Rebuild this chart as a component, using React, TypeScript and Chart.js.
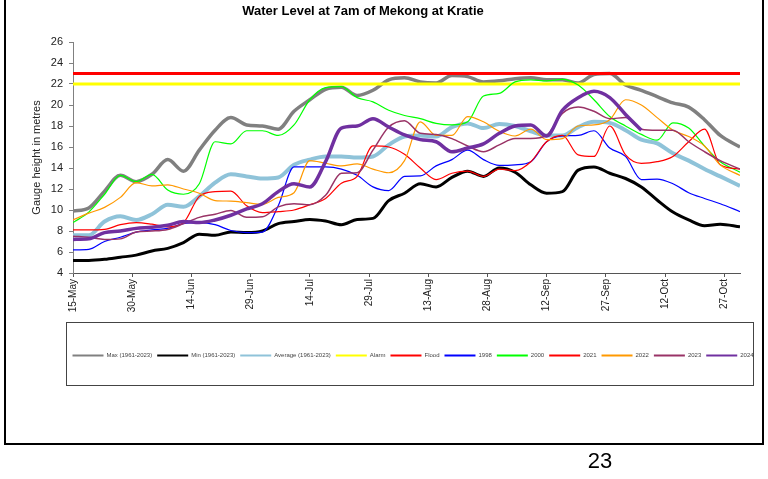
import React, { useEffect, useRef } from "react";
import { Chart, registerables } from "chart.js";

Chart.register(...registerables);

// Day offsets from 15-May (0) to 31-Oct (169)
const days = [0, 4, 8, 12, 16, 20, 24, 28, 32, 36, 40, 44, 48, 52, 56, 60, 64, 68, 72, 76, 80, 84, 88, 92, 96, 100, 104, 108, 112, 116, 120, 124, 128, 132, 136, 140, 144, 148, 152, 156, 160, 164, 169];

const tickDays = [0, 15, 30, 45, 60, 75, 90, 105, 120, 135, 150, 165];
const tickLabels = ["15-May", "30-May", "14-Jun", "29-Jun", "14-Jul", "29-Jul", "13-Aug", "28-Aug", "12-Sep", "27-Sep", "12-Oct", "27-Oct"];

const maxLevel = [9.9, 10.2, 11.8, 13.3, 12.7, 13.4, 14.8, 13.7, 15.7, 17.6, 18.8, 18.1, 18.0, 17.7, 19.4, 20.5, 21.5, 21.7, 20.9, 21.4, 22.4, 22.6, 22.2, 22.1, 22.8, 22.7, 22.2, 22.3, 22.5, 22.6, 22.4, 22.4, 22.1, 22.9, 23.0, 21.9, 21.4, 20.8, 20.2, 19.8, 18.6, 17.1, 16.0];
const minLevel = [5.2, 5.2, 5.3, 5.5, 5.7, 6.1, 6.35, 6.9, 7.7, 7.6, 7.9, 7.85, 8.0, 8.7, 8.9, 9.1, 8.95, 8.6, 9.1, 9.2, 10.9, 11.6, 12.5, 12.2, 13.1, 13.7, 13.2, 14.0, 13.6, 12.4, 11.6, 11.75, 13.8, 14.1, 13.5, 13.0, 12.2, 10.95, 9.8, 9.05, 8.5, 8.65, 8.4];
const avgLevel = [7.6, 7.6, 8.9, 9.4, 9.05, 9.6, 10.5, 10.3, 11.3, 12.6, 13.4, 13.2, 13.0, 13.1, 14.3, 14.8, 15.1, 15.1, 15.0, 15.1, 16.2, 17.0, 17.1, 17.0, 17.9, 18.25, 17.8, 18.2, 18.0, 17.5, 17.1, 17.1, 17.9, 18.4, 18.3, 17.6, 16.7, 16.35, 15.4, 14.7, 13.9, 13.2, 12.3];
const alarmLevel = 22;
const floodLevel = 23;
const y1998 = [6.2, 6.25, 7.0, 7.4, 7.9, 8.1, 8.25, 8.7, 8.8, 8.6, 8.05, 7.85, 7.9, 10.4, 14.1, 14.1, 14.1, 13.9, 13.3, 12.2, 11.85, 13.2, 13.25, 14.2, 14.8, 15.7, 14.8, 14.25, 14.3, 14.6, 16.5, 17.05, 17.1, 17.55, 15.9, 15.1, 12.9, 12.95, 12.5, 11.65, 11.1, 10.6, 9.85];
const y2000 = [8.8, 9.8, 11.5, 13.3, 12.7, 13.4, 11.9, 11.5, 12.5, 16.5, 16.3, 17.55, 17.55, 17.1, 18.1, 20.5, 21.65, 21.75, 20.7, 20.3, 19.5, 19.0, 18.7, 18.25, 18.1, 18.4, 20.85, 21.1, 22.2, 22.4, 22.3, 22.45, 21.9, 20.5, 18.9, 18.0, 17.2, 16.65, 18.3, 17.8, 16.1, 14.6, 13.6];
const y2021 = [8.1, 8.1, 8.15, 8.6, 8.8, 8.65, 8.4, 8.8, 11.3, 11.75, 11.8, 10.4, 9.75, 9.85, 10.0, 10.5, 11.1, 12.55, 13.2, 16.1, 16.0, 15.3, 14.0, 12.9, 13.5, 13.7, 13.2, 13.9, 13.75, 14.6, 16.5, 17.1, 15.25, 15.1, 18.0, 15.25, 14.45, 14.6, 15.1, 16.5, 17.7, 14.3, 13.9];
const y2022 = [9.05, 9.7, 10.25, 11.2, 12.6, 12.3, 12.4, 12.0, 11.6, 10.9, 10.85, 10.7, 10.55, 11.2, 11.65, 14.7, 14.45, 14.2, 14.4, 13.9, 13.55, 14.7, 18.4, 17.1, 17.1, 18.9, 18.4, 17.5, 17.05, 17.7, 16.7, 16.8, 18.0, 18.1, 18.6, 20.5, 20.0, 18.8, 17.6, 17.0, 16.1, 14.3, 13.3];
const y2023 = [7.5, 7.4, 7.2, 7.25, 7.9, 8.0, 8.15, 8.7, 9.3, 9.6, 9.95, 9.3, 9.35, 10.3, 10.6, 10.5, 11.4, 13.5, 13.55, 15.7, 17.9, 18.5, 17.3, 17.2, 16.8, 16.1, 15.55, 16.2, 16.8, 16.8, 17.1, 19.2, 19.8, 19.4, 18.7, 18.8, 17.7, 17.6, 17.6, 16.5, 15.55, 14.7, 13.9];
const y2024 = [7.2, 7.25, 7.85, 8.0, 8.25, 8.35, 8.55, 8.9, 8.8, 9.05, 9.5, 10.1, 10.6, 11.75, 12.5, 12.2, 14.6, 17.8, 18.0, 18.7, 17.9, 17.15, 16.7, 16.5, 15.55, 15.9, 16.3, 17.3, 18.0, 18.1, 17.05, 19.5, 20.7, 21.3, 20.7, 19.1, 17.6];

const FONT = '"Liberation Sans", Arial, sans-serif';

const pts = (vals: number[]) => vals.map((v, i) => ({ x: days[i], y: v }));
const flat = (v: number) => [{ x: days[0], y: v }, { x: days[days.length - 1], y: v }];

const seriesDefs = [
  { label: "Max (1961-2023)", data: pts(maxLevel), color: "#808080", width: 3.5, lw: 2 },
  { label: "Min (1961-2023)", data: pts(minLevel), color: "#000000", width: 3, lw: 2 },
  { label: "Average (1961-2023)", data: pts(avgLevel), color: "#8FC3D9", width: 4, lw: 2 },
  { label: "Alarm", data: flat(alarmLevel), color: "#FFFF00", width: 3, lw: 2 },
  { label: "Flood", data: flat(floodLevel), color: "#FF0000", width: 3, lw: 2 },
  { label: "1998", data: pts(y1998), color: "#0000FF", width: 1.2, lw: 2 },
  { label: "2000", data: pts(y2000), color: "#00FF00", width: 1.2, lw: 2 },
  { label: "2021", data: pts(y2021), color: "#FF0000", width: 1.2, lw: 2 },
  { label: "2022", data: pts(y2022), color: "#FF9900", width: 1.2, lw: 2 },
  { label: "2023", data: pts(y2023), color: "#993366", width: 1.5, lw: 2 },
  { label: "2024", data: pts(y2024), color: "#7030A0", width: 3.5, lw: 2 },
];

const pagePlugin = {
  id: "pageDecor",
  afterDraw(chart: any) {
    const ctx = chart.ctx as CanvasRenderingContext2D;
    ctx.save();
    // Title
    ctx.fillStyle = "#000";
    ctx.font = `bold 13px ${FONT}`;
    ctx.textAlign = "center";
    ctx.textBaseline = "middle";
    ctx.fillText("Water Level at 7am of Mekong at Kratie", 363, 11);

    // Legend box
    ctx.strokeStyle = "#444";
    ctx.lineWidth = 1;
    ctx.strokeRect(66.5, 322.5, 687, 63);

    // Legend items
    let x = 72.5;
    const y = 355.5;
    ctx.font = `6px ${FONT}`;
    ctx.textAlign = "left";
    ctx.textBaseline = "middle";
    chart.data.datasets.forEach((ds: any) => {
      ctx.strokeStyle = ds.borderColor;
      ctx.lineWidth = ds.legendLineWidth || 2;
      ctx.beginPath();
      ctx.moveTo(x, y);
      ctx.lineTo(x + 31, y);
      ctx.stroke();
      ctx.fillStyle = "#444";
      ctx.fillText(ds.label, x + 34, y);
      x += 34 + ctx.measureText(ds.label).width + 5;
    });

    // Page frame
    ctx.strokeStyle = "#000";
    ctx.lineWidth = 2;
    ctx.beginPath();
    ctx.moveTo(5, 0);
    ctx.lineTo(5, 444);
    ctx.lineTo(763, 444);
    ctx.lineTo(763, 0);
    ctx.stroke();

    // Page number
    ctx.fillStyle = "#000";
    ctx.font = `22px ${FONT}`;
    ctx.textAlign = "center";
    ctx.textBaseline = "middle";
    ctx.fillText("23", 600, 462);
    ctx.restore();
  },
};

export default function App() {
  const canvasRef = useRef<HTMLCanvasElement | null>(null);

  useEffect(() => {
    if (!canvasRef.current) return;
    const n = seriesDefs.length;
    const chart = new Chart(canvasRef.current, {
      type: "line",
      data: {
        datasets: seriesDefs.map((s, i) => ({
          label: s.label,
          data: s.data,
          borderColor: s.color,
          backgroundColor: s.color,
          borderWidth: s.width,
          legendLineWidth: s.lw,
          pointRadius: 0,
          pointHoverRadius: 0,
          fill: false,
          cubicInterpolationMode: "monotone",
          order: n - i,
        })) as any,
      },
      options: {
        responsive: false,
        animation: false,
        events: [],
        layout: { padding: { left: 0, right: 28, top: 42, bottom: 156 } },
        plugins: {
          legend: { display: false },
          title: { display: false },
          tooltip: { enabled: false },
        },
        scales: {
          x: {
            type: "linear",
            min: 0,
            max: 169,
            afterBuildTicks: (scale: any) => {
              scale.ticks = tickDays.map((v) => ({ value: v }));
            },
            afterFit: (scale: any) => {
              scale.height = 50;
            },
            grid: {
              drawOnChartArea: false,
              drawTicks: true,
              tickLength: 4,
              color: "#555",
            },
            border: { display: true, color: "#555", width: 1 },
            ticks: {
              autoSkip: false,
              maxRotation: 90,
              minRotation: 90,
              padding: 2,
              color: "#222",
              font: { family: FONT, size: 10 },
              callback: (_v: any, index: number) => tickLabels[index],
            },
          },
          y: {
            type: "linear",
            min: 4,
            max: 26,
            afterFit: (scale: any) => {
              scale.width = 73;
            },
            grid: {
              drawOnChartArea: false,
              drawTicks: true,
              tickLength: 4,
              color: "#808080",
            },
            border: { display: true, color: "#808080", width: 1 },
            ticks: {
              stepSize: 2,
              padding: 6,
              color: "#222",
              font: { family: FONT, size: 11 },
            },
            title: {
              display: true,
              text: "Gauge height in metres",
              color: "#222",
              font: { family: FONT, size: 11 },
              padding: { top: 30, bottom: 0 },
            },
          },
        },
      },
      plugins: [pagePlugin],
    });
    return () => chart.destroy();
  }, []);

  return (
    <div style={{ position: "absolute", left: 0, top: 0, width: 768, height: 479, background: "#fff" }}>
      <canvas ref={canvasRef} width={768} height={479} style={{ display: "block" }} />
    </div>
  );
}
